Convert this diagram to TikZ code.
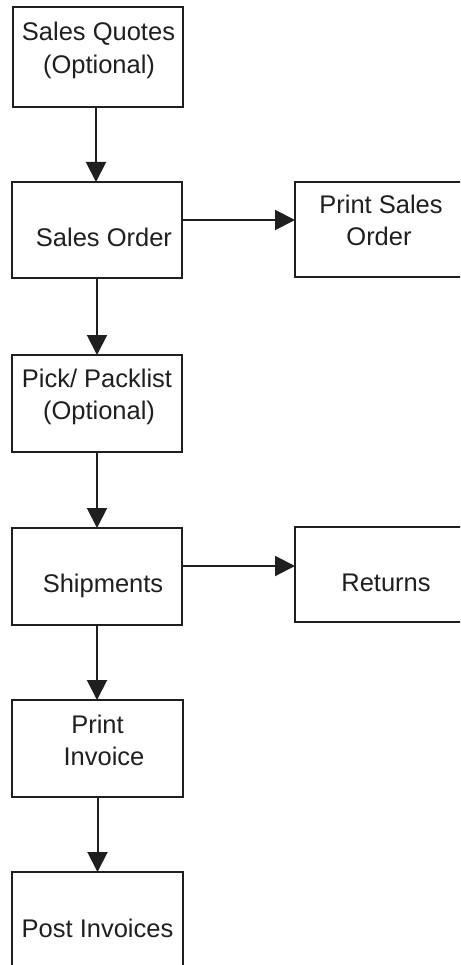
\documentclass[tikz,border=0pt]{standalone}
\usepackage{fontspec}
\setmainfont{Liberation Sans}
\usetikzlibrary{arrows.meta}

\tikzset{
  box/.style={draw=black!88, line width=2pt, rectangle, inner sep=0pt, outer sep=0pt},
  lbl/.style={anchor=base, inner sep=0pt, outer sep=0pt, text=black!88,
              font=\fontsize{25.5pt}{32pt}\selectfont},
  arr/.style={draw=black!88, line width=2pt,
              -{Triangle[length=20pt,width=20pt]}},
}

\begin{document}
\begin{tikzpicture}[x=1pt,y=-1pt]
  % page frame
  \useasboundingbox (0,0) rectangle (460,965);
  \fill[white] (0,0) rectangle (460,965);
  \clip (0,0) rectangle (460,965);

  % process boxes (left column and right column)
  \node[box, minimum width=170pt, minimum height=100pt] (quotes)  at (98,57)     {};
  \node[box, minimum width=170pt, minimum height=96pt]  (order)   at (97,230)    {};
  \node[box, minimum width=169pt, minimum height=95pt]  (psorder) at (379.5,229.5) {};
  \node[box, minimum width=170pt, minimum height=97pt]  (pick)    at (97,403.5)  {};
  \node[box, minimum width=170pt, minimum height=97pt]  (ship)    at (97,576.5)  {};
  \node[box, minimum width=169pt, minimum height=95pt]  (returns) at (379.5,574.5) {};
  \node[box, minimum width=171pt, minimum height=97pt]  (pinv)    at (97.5,748.5) {};
  \node[box, minimum width=171pt, minimum height=103pt] (post)    at (97.5,923.5) {};

  % box texts
  \node[lbl] (quotesA)  at (98.5,41)  {Sales Quotes};
  \node[lbl] (quotesB)  at (99,74)    {(Optional)};
  \node[lbl] (orderA)   at (104,247)  {Sales Order};
  \node[lbl] (psorderA) at (381,214)  {Print Sales};
  \node[lbl] (psorderB) at (379,246)  {Order};
  \node[lbl] (pickA)    at (97,387)   {Pick/ Packlist};
  \node[lbl] (pickB)    at (99,419)   {(Optional)};
  \node[lbl] (shipA)    at (103,592)  {Shipments};
  \node[lbl] (returnsA) at (386,591)  {Returns};
  \node[lbl] (pinvA)    at (97.5,733) {Print};
  \node[lbl] (pinvB)    at (104,765)  {Invoice};
  \node[lbl] (postA)    at (97.5,937) {Post Invoices};

  % flow connectors (kept vertical / horizontal)
  \draw[arr] ([xshift=-2pt]quotes.south) -- ([xshift=-2pt]quotes.south |- order.north);
  \draw[arr] (order.south) -- (order.south |- pick.north);
  \draw[arr] (pick.south) -- (pick.south |- ship.north);
  \draw[arr] (ship.south) -- (ship.south |- pinv.north);
  \draw[arr] (pinv.south) -- (pinv.south |- post.north);
  \draw[arr] ([yshift=10pt]order.east) -- ([yshift=10pt]order.east -| psorder.west);
  \draw[arr] ([yshift=10.5pt]ship.east) -- ([yshift=10.5pt]ship.east -| returns.west);
\end{tikzpicture}
\end{document}
